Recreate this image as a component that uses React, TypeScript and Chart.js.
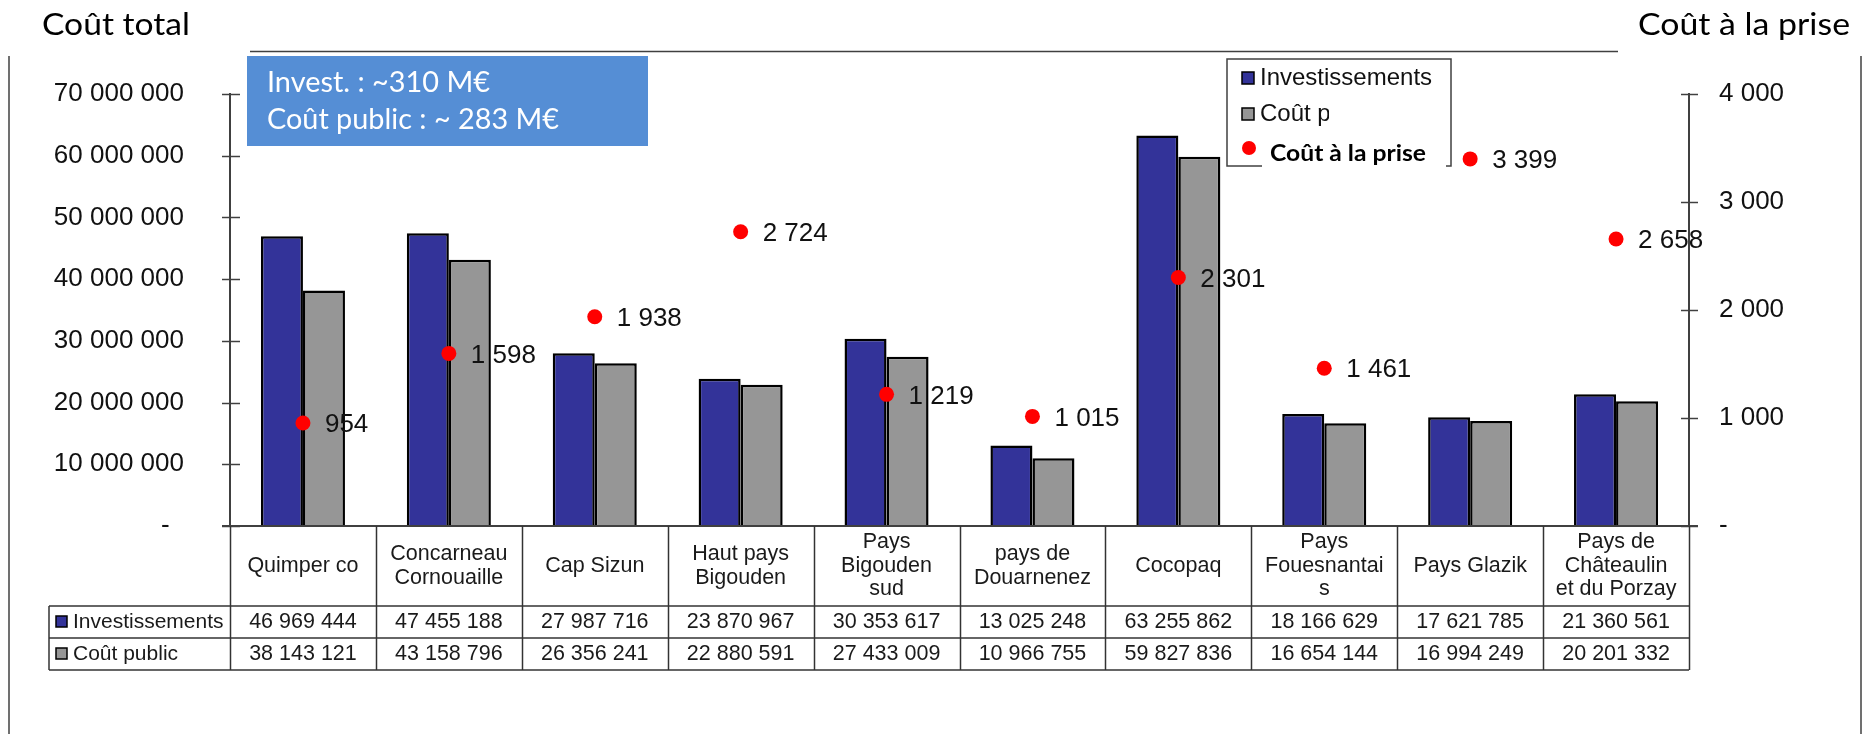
import React, { useEffect, useRef } from 'react';
import { Chart, registerables } from 'chart.js';

Chart.register(...registerables);

// ---------- data ----------
const categories: string[][] = [
  ['Quimper co'],
  ['Concarneau', 'Cornouaille'],
  ['Cap Sizun'],
  ['Haut pays', 'Bigouden'],
  ['Pays', 'Bigouden', 'sud'],
  ['pays de', 'Douarnenez'],
  ['Cocopaq'],
  ['Pays', 'Fouesnantai', 's'],
  ['Pays Glazik'],
  ['Pays de', 'Châteaulin', 'et du Porzay'],
];
const investissements = [46969444, 47455188, 27987716, 23870967, 30353617, 13025248, 63255862, 18166629, 17621785, 21360561];
const coutPublic = [38143121, 43158796, 26356241, 22880591, 27433009, 10966755, 59827836, 16654144, 16994249, 20201332];
const coutPrise = [954, 1598, 1938, 2724, 1219, 1015, 2301, 1461, 3399, 2658];

const leftTicks = [0, 10000000, 20000000, 30000000, 40000000, 50000000, 60000000, 70000000];
const rightTicks = [0, 1000, 2000, 3000, 4000];

const seriesNames = ['Investissements', 'Coût public', 'Coût à la prise'];
const titleLeft = 'Coût total';
const titleRight = 'Coût à la prise';
const boxLines = ['Invest. : ~310 M€', 'Coût public : ~ 283 M€'];

// ---------- styles ----------
const W = 1865;
const H = 734;
const BLUE = '#333399';
const GRAY = '#969696';
const RED = '#ff0000';
const LINE = '#404040';
const ARIAL = '"Liberation Sans", Arial, sans-serif';
const CAL = 'Lato, "Open Sans", sans-serif';

const fmt = (n: number) => String(Math.round(n)).replace(/\B(?=(\d{3})+(?!\d))/g, ' ');

function fitText(ctx: CanvasRenderingContext2D, text: string, x: number, y: number, font: string, targetW: number, color: string) {
  ctx.save();
  ctx.font = font;
  ctx.fillStyle = color;
  ctx.textAlign = 'left';
  ctx.textBaseline = 'alphabetic';
  const w = ctx.measureText(text).width;
  const s = targetW / w;
  ctx.translate(x, y);
  ctx.scale(s, 1);
  ctx.fillText(text, 0, 0);
  ctx.restore();
}

function line(ctx: CanvasRenderingContext2D, x1: number, y1: number, x2: number, y2: number, color = LINE, w = 1.5) {
  ctx.save();
  ctx.strokeStyle = color;
  ctx.lineWidth = w;
  ctx.beginPath();
  ctx.moveTo(x1, y1);
  ctx.lineTo(x2, y2);
  ctx.stroke();
  ctx.restore();
}

function square(ctx: CanvasRenderingContext2D, x: number, y: number, s: number, fill: string) {
  ctx.save();
  ctx.fillStyle = fill;
  ctx.fillRect(x, y, s, s);
  ctx.strokeStyle = '#000';
  ctx.lineWidth = 1.5;
  ctx.strokeRect(x, y, s, s);
  ctx.restore();
}

const decorPlugin = {
  id: 'decor',
  afterDraw(chart: any) {
    const ctx: CanvasRenderingContext2D = chart.ctx;
    const { chartArea, scales } = chart;
    const xs = scales.x;
    const ys = scales.y;
    const ys2 = scales.y2;
    const left = chartArea.left;
    const right = chartArea.right;
    const bottom = chartArea.bottom;

    // tick marks crossing the axes
    leftTicks.forEach((v) => {
      const py = Math.round(ys.getPixelForValue(v)) + 0.5;
      line(ctx, left - 8, py, left + 10, py);
    });
    rightTicks.forEach((v) => {
      const py = Math.round(ys2.getPixelForValue(v)) + 0.5;
      line(ctx, right - 8, py, right + 9, py);
    });
    // base line
    line(ctx, left - 8, bottom, right + 9, bottom, LINE, 2);

    // ---------- data table ----------
    const step = xs.getPixelForValue(1) - xs.getPixelForValue(0);
    const tableLeft = 49;
    const hdrBottom = bottom + 80;
    const r1Bottom = hdrBottom + 32;
    const r2Bottom = r1Bottom + 32;
    for (let i = 0; i <= categories.length; i++) {
      const bx = Math.round(xs.getPixelForValue(i) - step / 2) + 0.5;
      line(ctx, bx, bottom, bx, r2Bottom, '#333', 1.5);
    }
    line(ctx, tableLeft, hdrBottom, right, hdrBottom, '#333', 1.5);
    line(ctx, tableLeft, r1Bottom, right, r1Bottom, '#333', 1.5);
    line(ctx, tableLeft, r2Bottom, right, r2Bottom, '#333', 1.5);
    line(ctx, tableLeft, hdrBottom, tableLeft, r2Bottom, '#333', 1.5);

    ctx.save();
    ctx.font = `21.5px ${ARIAL}`;
    ctx.fillStyle = '#1a1a1a';
    ctx.textAlign = 'center';
    ctx.textBaseline = 'middle';
    categories.forEach((lines, i) => {
      const cx = xs.getPixelForValue(i);
      const lh = 23.5;
      const y0 = bottom + 40 - ((lines.length - 1) * lh) / 2;
      lines.forEach((t, k) => ctx.fillText(t, cx, y0 + k * lh));
      ctx.fillText(fmt(investissements[i]), cx, hdrBottom + 16);
      ctx.fillText(fmt(coutPublic[i]), cx, r1Bottom + 16);
    });
    ctx.textAlign = 'left';
    ctx.font = `21px ${ARIAL}`;
    ctx.fillText(seriesNames[0], 73, hdrBottom + 16);
    ctx.fillText(seriesNames[1], 73, r1Bottom + 16);
    ctx.restore();
    square(ctx, 56, hdrBottom + 10, 11, BLUE);
    square(ctx, 56, r1Bottom + 10, 11, GRAY);

    // ---------- point labels ----------
    const meta = chart.getDatasetMeta(0);
    ctx.save();
    ctx.font = `26px ${ARIAL}`;
    ctx.fillStyle = '#111';
    ctx.textAlign = 'left';
    ctx.textBaseline = 'middle';
    meta.data.forEach((pt: any, i: number) => {
      ctx.fillText(fmt(coutPrise[i]), pt.x + 22, pt.y + 2);
    });
    ctx.restore();

    // ---------- frame and titles ----------
    line(ctx, 9, 56, 9, H, LINE, 1.5);
    line(ctx, 1861, 56, 1861, H, LINE, 1.5);
    line(ctx, 250, 51.5, 1618, 51.5, LINE, 1.5);
    fitText(ctx, titleLeft, 42, 35, `30px ${CAL}`, 148, '#000');
    fitText(ctx, titleRight, 1638, 35, `30px ${CAL}`, 212, '#000');

    // blue summary box
    ctx.save();
    ctx.fillStyle = '#558ED5';
    ctx.fillRect(247, 56, 401, 90);
    ctx.restore();
    fitText(ctx, boxLines[0], 267, 92, `28px ${CAL}`, 223, '#fff');
    fitText(ctx, boxLines[1], 267, 129, `28px ${CAL}`, 292, '#fff');

    // ---------- legend ----------
    ctx.save();
    ctx.fillStyle = '#fff';
    ctx.fillRect(1227, 59, 224, 107);
    ctx.strokeStyle = LINE;
    ctx.lineWidth = 1.5;
    ctx.strokeRect(1227, 59, 224, 107);
    ctx.restore();
    square(ctx, 1242, 72, 12, BLUE);
    square(ctx, 1242, 108, 12, GRAY);
    ctx.save();
    ctx.font = `24px ${ARIAL}`;
    ctx.fillStyle = '#111';
    ctx.textAlign = 'left';
    ctx.textBaseline = 'middle';
    ctx.fillText(seriesNames[0], 1260, 78);
    ctx.beginPath();
    ctx.rect(1256, 95, 1329 - 1256, 40);
    ctx.clip();
    ctx.fillText(seriesNames[1], 1260, 114);
    ctx.restore();
    ctx.save();
    ctx.fillStyle = '#fff';
    ctx.fillRect(1262, 134, 184, 36);
    ctx.fillStyle = RED;
    ctx.beginPath();
    ctx.arc(1249, 148, 7, 0, Math.PI * 2);
    ctx.fill();
    ctx.restore();
    fitText(ctx, seriesNames[2], 1270, 161, `bold 23px ${CAL}`, 156, '#000');
  },
};

export default function App() {
  const ref = useRef<HTMLCanvasElement | null>(null);

  useEffect(() => {
    if (!ref.current) return;
    const chart = new Chart(ref.current, {
      type: 'bar',
      data: {
        labels: categories.map((c) => c.join(' ')),
        datasets: [
          {
            type: 'line',
            label: seriesNames[2],
            data: coutPrise,
            yAxisID: 'y2',
            showLine: false,
            pointRadius: 7.5,
            pointBackgroundColor: RED,
            pointBorderWidth: 0,
            borderColor: RED,
            order: 0,
          } as any,
          {
            type: 'bar',
            label: seriesNames[0],
            data: investissements,
            yAxisID: 'y',
            backgroundColor: BLUE,
            borderColor: '#000',
            borderWidth: 2.5,
            categoryPercentage: 0.576,
            barPercentage: 1,
            order: 1,
          },
          {
            type: 'bar',
            label: seriesNames[1],
            data: coutPublic,
            yAxisID: 'y',
            backgroundColor: GRAY,
            borderColor: '#000',
            borderWidth: 2.5,
            categoryPercentage: 0.576,
            barPercentage: 1,
            order: 1,
          },
        ],
      },
      options: {
        responsive: false,
        animation: false,
        devicePixelRatio: 1,
        layout: { padding: { left: 0, right: 0, top: 94, bottom: 208 } },
        plugins: { legend: { display: false }, tooltip: { enabled: false } },
        scales: {
          x: { display: false, offset: true },
          y: {
            position: 'left',
            min: 0,
            max: 70000000,
            afterBuildTicks: (s: any) => { s.ticks = leftTicks.map((v) => ({ value: v })); },
            ticks: {
              padding: 46,
              color: '#111',
              font: { family: ARIAL, size: 26 },
              callback: (v: any) => (Number(v) === 0 ? '-  ' : fmt(Number(v))),
            },
            grid: { display: false, drawTicks: false },
            border: { display: true, color: LINE, width: 2 },
            afterFit: (s: any) => { s.width = 230; },
          },
          y2: {
            position: 'right',
            min: 0,
            max: 4000,
            afterBuildTicks: (s: any) => { s.ticks = rightTicks.map((v) => ({ value: v })); },
            ticks: {
              padding: 30,
              color: '#111',
              font: { family: ARIAL, size: 26 },
              callback: (v: any) => (Number(v) === 0 ? '-' : fmt(Number(v))),
            },
            grid: { display: false, drawTicks: false },
            border: { display: true, color: LINE, width: 2 },
            afterFit: (s: any) => { s.width = W - 1689; },
          },
        },
      } as any,
      plugins: [decorPlugin],
    });
    return () => chart.destroy();
  }, []);

  return (
    <div style={{ position: 'fixed', left: 0, top: 0, width: W, height: H, background: '#fff' }}>
      <canvas ref={ref} width={W} height={H} style={{ display: 'block', width: W, height: H }} />
    </div>
  );
}
